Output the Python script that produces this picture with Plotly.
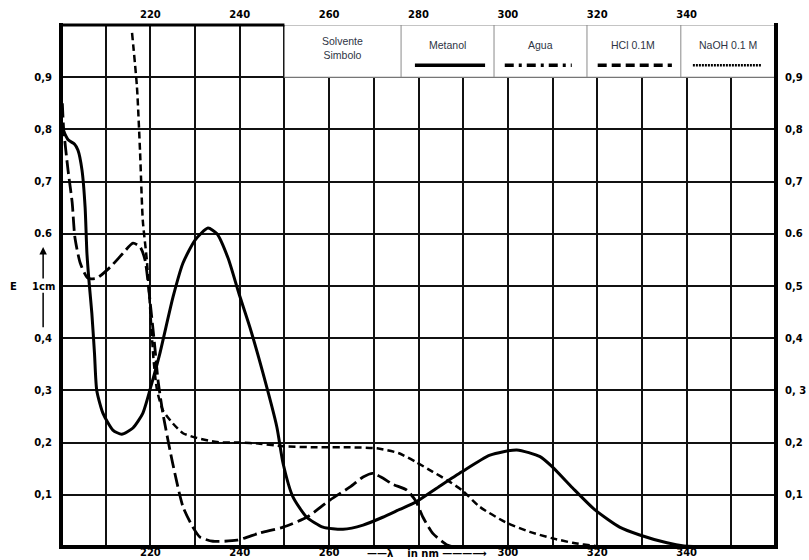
import plotly.graph_objects as go

# ---------------- data ----------------
metanol_nm = [200.4, 201.6, 203.0, 203.8, 204.7, 205.4, 205.8, 206.3, 206.9, 207.5, 208.0,
              209.4, 211.6, 213.6, 216.1, 218.3, 220.2, 222.1, 225.1, 227.3, 230.0, 232.9,
              234.9, 237.4, 239.8, 242.3, 245.2, 248.3, 249.7, 251.9, 255.0, 258.6, 263.1,
              267.6, 272.0, 275.8, 279.4, 284.5, 289.7, 296.0, 302.0, 307.2, 310.0, 314.5,
              319.5, 325.0, 329.5, 335.6, 339.4, 345.0, 360.0]
metanol_E = [0.80, 0.78, 0.772, 0.76, 0.722, 0.65, 0.563, 0.506, 0.448, 0.37, 0.30,
             0.256, 0.224, 0.216, 0.228, 0.256, 0.31, 0.37, 0.48, 0.544, 0.588, 0.611,
             0.60, 0.553, 0.486, 0.42, 0.333, 0.23, 0.16, 0.096, 0.057, 0.038, 0.034,
             0.042, 0.057, 0.072, 0.086, 0.115, 0.144, 0.176, 0.186, 0.173, 0.153, 0.113,
             0.071, 0.038, 0.023, 0.008, 0.002, 0.0, 0.0]

agua_nm = [200.3, 200.6, 201.6, 202.5, 203.1, 204.3, 206.0, 208.0, 211.0, 213.9, 216.1,
           217.7, 218.8, 219.5, 219.9, 221.0, 221.7, 222.8, 225.0, 227.3, 229.5, 231.1,
           234.0, 239.4, 244.5, 249.7, 255.0, 260.2, 264.7, 267.6, 269.8, 272.0, 274.3,
           277.4, 279.4, 281.0, 283.2, 286.4, 288.0]
agua_E = [0.85, 0.80, 0.72, 0.66, 0.594, 0.544, 0.515, 0.515, 0.536, 0.563, 0.582,
          0.575, 0.55, 0.506, 0.473, 0.383, 0.32, 0.256, 0.16, 0.077, 0.038, 0.019,
          0.011, 0.013, 0.027, 0.038, 0.057, 0.09, 0.115, 0.134, 0.141, 0.132, 0.12,
          0.109, 0.088, 0.057, 0.026, 0.004, 0.0]

hcl_nm = [215.9, 217.0, 217.7, 218.3, 219.2, 220.0, 220.7, 221.5, 222.8, 225.0, 227.3,
          230.4, 234.9, 240.0, 244.5, 249.7, 257.3, 264.7, 270.7, 275.5, 279.4, 283.2,
          286.4, 289.7, 293.7, 299.8, 304.9, 309.8, 314.5, 319.5, 325.0]
hcl_E = [0.985, 0.881, 0.755, 0.626, 0.55, 0.45, 0.36, 0.30, 0.262, 0.237, 0.218,
         0.209, 0.201, 0.200, 0.198, 0.193, 0.191, 0.191, 0.189, 0.18, 0.163, 0.144,
         0.128, 0.109, 0.077, 0.046, 0.029, 0.017, 0.008, 0.002, 0.0]

grid_x = [210, 220, 230, 240, 250, 260, 270, 280, 290, 300, 310, 320, 330, 340, 350]
bottom_labels = ["", "220", "", "240", "", "260", "", "", "", "300", "", "320", "", "340", ""]
top_vals = [220, 240, 260, 280, 300, 320, 340]
top_labels = ["220", "240", "260", "280", "300", "320", "340"]
grid_y = [0.1, 0.2, 0.3, 0.4, 0.5, 0.6, 0.7, 0.8, 0.9]
left_labels = ["0,1", "0,2", "0,3", "0,4", "", "0.6", "0,7", "0,8", "0,9"]
right_labels = ["0,1", "0,2", "0, 3", "0,4", "0,5", "0.6", "0,7", "0,8", "0,9"]

legend_names = ["Metanol", "Agua", "HCl 0.1M", "NaOH 0.1 M"]

# ---------------- figure ----------------
fig = go.Figure()
fig.add_trace(go.Scatter(x=metanol_nm, y=metanol_E, mode="lines", name="Metanol",
                         line=dict(color="black", width=3, shape="spline", smoothing=0.6)))
fig.add_trace(go.Scatter(x=agua_nm, y=agua_E, mode="lines", name="Agua",
                         line=dict(color="black", width=2.8, dash="14px,5px",
                                   shape="spline", smoothing=0.6)))
fig.add_trace(go.Scatter(x=hcl_nm, y=hcl_E, mode="lines", name="HCl 0.1M",
                         line=dict(color="black", width=2.5, dash="7px,4px",
                                   shape="spline", smoothing=0.6)))
# helper traces so the secondary (top / right) axes are drawn
fig.add_trace(go.Scatter(x=[None], y=[None], xaxis="x2", yaxis="y", showlegend=False,
                         hoverinfo="skip"))
fig.add_trace(go.Scatter(x=[None], y=[None], xaxis="x", yaxis="y2", showlegend=False,
                         hoverinfo="skip"))

tickfont = dict(family="DejaVu Sans", size=10, color="black", weight="bold")

fig.update_layout(
    width=809, height=560,
    margin=dict(l=61, r=33, t=25, b=13, autoexpand=False),
    paper_bgcolor="white", plot_bgcolor="white",
    showlegend=False,
    xaxis=dict(range=[200, 360], tickvals=grid_x, ticktext=bottom_labels,
               showgrid=True, gridcolor="#111", gridwidth=1.5, zeroline=False,
               ticks="", showline=False, tickfont=tickfont, ticklabelstandoff=-2,
               automargin=False, fixedrange=True),
    xaxis2=dict(range=[200, 360], overlaying="x", side="top", anchor="y", matches="x",
                tickvals=top_vals, ticktext=top_labels, showgrid=False, zeroline=False,
                ticks="", showline=False, tickfont=tickfont, ticklabelstandoff=4,
                automargin=False),
    yaxis=dict(range=[0, 1.0], tickvals=grid_y, ticktext=left_labels,
               showgrid=True, gridcolor="#111", gridwidth=1.5, zeroline=False,
               ticks="", showline=False, tickfont=tickfont, ticklabelstandoff=8,
               automargin=False, fixedrange=True),
    yaxis2=dict(range=[0, 1.0], overlaying="y", side="right", anchor="x", matches="y",
                tickvals=grid_y, ticktext=right_labels, showgrid=False, zeroline=False,
                ticks="", showline=False, tickfont=tickfont, ticklabelstandoff=8,
                automargin=False),
)

shapes = []
# legend table box
shapes.append(dict(type="rect", xref="x", yref="y", x0=250, x1=360, y0=0.9, y1=1.0,
                   fillcolor="white", line=dict(color="#8a8a8a", width=1), layer="above"))
for xd in [276.1, 296.9, 317.7, 338.7]:
    shapes.append(dict(type="line", xref="x", yref="y", x0=xd, x1=xd, y0=0.9, y1=1.0,
                       line=dict(color="#8a8a8a", width=1), layer="above"))
# legend samples
samples = [
    (279.2, 294.9, dict(color="black", width=3.5)),
    (299.3, 314.3, dict(color="black", width=3.5, dash="9px,5px,3px,5px")),
    (320.1, 336.7, dict(color="black", width=3.5, dash="9px,5px")),
    (341.4, 356.8, dict(color="black", width=2.5, dash="2px,1px")),
]
for x0, x1, ln in samples:
    shapes.append(dict(type="line", xref="x", yref="y", x0=x0, x1=x1, y0=0.923, y1=0.923,
                       line=ln, layer="above"))
# frame
frame = dict(color="black", width=4)
shapes.append(dict(type="line", xref="paper", yref="paper", x0=0, x1=0, y0=-0.004, y1=1.004,
                   line=frame, layer="above"))
shapes.append(dict(type="line", xref="paper", yref="paper", x0=0, x1=1.0, y0=0, y1=0,
                   line=frame, layer="above"))
shapes.append(dict(type="line", xref="paper", yref="paper", x0=1, x1=1, y0=-0.004, y1=1.004,
                   line=frame, layer="above"))
shapes.append(dict(type="line", xref="x", yref="paper", x0=200, x1=250, y0=1, y1=1,
                   line=dict(color="black", width=3), layer="above"))
# E axis marker line (below "E 1cm")
shapes.append(dict(type="line", xref="paper", yref="y", x0=-0.025, x1=-0.025,
                   y0=0.421, y1=0.487, line=dict(color="black", width=1.5)))
fig.update_layout(shapes=shapes)

legfont = dict(family="Liberation Sans", size=10.5, color="#2e3444")
ann = [
    dict(x=262.9, y=0.955, xref="x", yref="y", text="Solvente<br>Simbolo", showarrow=False,
         font=legfont),
    dict(x=286.4, y=0.962, xref="x", yref="y", text=legend_names[0], showarrow=False, font=legfont),
    dict(x=307.2, y=0.962, xref="x", yref="y", text=legend_names[1], showarrow=False, font=legfont),
    dict(x=328.0, y=0.962, xref="x", yref="y", text=legend_names[2], showarrow=False, font=legfont),
    dict(x=349.2, y=0.962, xref="x", yref="y", text=legend_names[3], showarrow=False, font=legfont),
    # E 1cm label with arrow
    dict(x=-0.067, y=0.5, xref="paper", yref="y", xanchor="center", text="E", showarrow=False,
         font=dict(family="DejaVu Sans", size=10, color="black", weight="bold")),
    dict(x=-0.025, y=0.5, xref="paper", yref="y", xanchor="center", text="1cm", showarrow=False,
         font=dict(family="DejaVu Sans", size=10, color="black", weight="bold")),
    dict(x=-0.025, y=0.5747, xref="paper", yref="y", text="", showarrow=True,
         ax=0, ay=33, arrowhead=2, arrowsize=1, arrowwidth=1.5, arrowcolor="black"),
    # wavelength axis caption
    dict(x=282, y=-0.0115, xref="x", yref="paper", xanchor="center", yanchor="middle",
         text="——λ    in nm ———⟶", showarrow=False,
         font=dict(family="DejaVu Sans", size=10, color="black", weight="bold")),
]
fig.update_layout(annotations=ann)

fig.write_html("out.html", config={"displayModeBar": False})
